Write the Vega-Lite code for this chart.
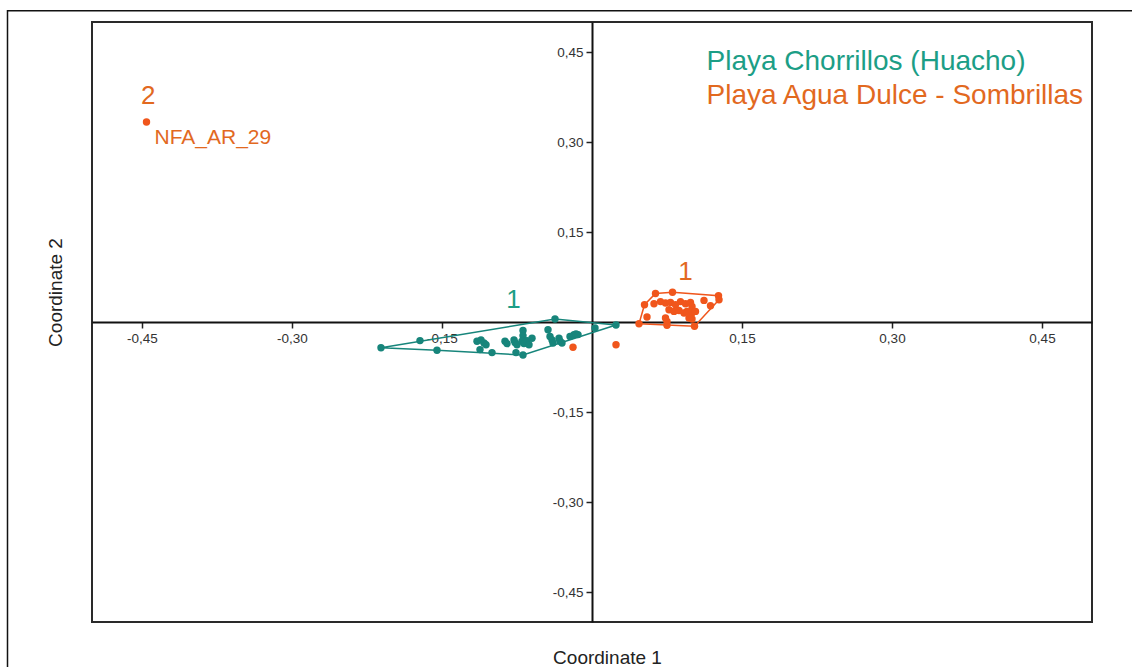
{
  "$schema": "https://vega.github.io/schema/vega-lite/v6.json",
  "width": 1000,
  "height": 600,
  "autosize": {"type": "none"},
  "padding": {"left": 92, "top": 22, "right": 40, "bottom": 45},
  "background": "white",
  "config": {
    "font": "Liberation Sans",
    "view": {"stroke": "#2a2a2a", "strokeWidth": 2}
  },
  "datasets": {
    "points": [
      {"group": "Chorrillos", "x": -0.211, "y": -0.043},
      {"group": "Chorrillos", "x": -0.172, "y": -0.031},
      {"group": "Chorrillos", "x": -0.155, "y": -0.047},
      {"group": "Chorrillos", "x": -0.115, "y": -0.032},
      {"group": "Chorrillos", "x": -0.111, "y": -0.030},
      {"group": "Chorrillos", "x": -0.108, "y": -0.035},
      {"group": "Chorrillos", "x": -0.106, "y": -0.038},
      {"group": "Chorrillos", "x": -0.112, "y": -0.046},
      {"group": "Chorrillos", "x": -0.100, "y": -0.051},
      {"group": "Chorrillos", "x": -0.087, "y": -0.032},
      {"group": "Chorrillos", "x": -0.085, "y": -0.036},
      {"group": "Chorrillos", "x": -0.078, "y": -0.030},
      {"group": "Chorrillos", "x": -0.077, "y": -0.034},
      {"group": "Chorrillos", "x": -0.075, "y": -0.038},
      {"group": "Chorrillos", "x": -0.076, "y": -0.051},
      {"group": "Chorrillos", "x": -0.069, "y": -0.014},
      {"group": "Chorrillos", "x": -0.069, "y": -0.023},
      {"group": "Chorrillos", "x": -0.070, "y": -0.032},
      {"group": "Chorrillos", "x": -0.068, "y": -0.036},
      {"group": "Chorrillos", "x": -0.065, "y": -0.031},
      {"group": "Chorrillos", "x": -0.063, "y": -0.038},
      {"group": "Chorrillos", "x": -0.060, "y": -0.027},
      {"group": "Chorrillos", "x": -0.069, "y": -0.055},
      {"group": "Chorrillos", "x": -0.044, "y": -0.013},
      {"group": "Chorrillos", "x": -0.042, "y": -0.024},
      {"group": "Chorrillos", "x": -0.040, "y": -0.030},
      {"group": "Chorrillos", "x": -0.039, "y": -0.035},
      {"group": "Chorrillos", "x": -0.037, "y": 0.005},
      {"group": "Chorrillos", "x": -0.033, "y": -0.027},
      {"group": "Chorrillos", "x": -0.032, "y": -0.032},
      {"group": "Chorrillos", "x": -0.030, "y": -0.035},
      {"group": "Chorrillos", "x": -0.022, "y": -0.024},
      {"group": "Chorrillos", "x": -0.018, "y": -0.021},
      {"group": "Chorrillos", "x": -0.016, "y": -0.020},
      {"group": "Chorrillos", "x": -0.014, "y": -0.021},
      {"group": "Chorrillos", "x": 0.003, "y": -0.010},
      {"group": "Chorrillos", "x": 0.024, "y": -0.005},
      {"group": "AguaDulce", "x": 0.0635, "y": 0.0475},
      {"group": "AguaDulce", "x": 0.0805, "y": 0.0497},
      {"group": "AguaDulce", "x": 0.1265, "y": 0.0438},
      {"group": "AguaDulce", "x": 0.127, "y": 0.0372},
      {"group": "AguaDulce", "x": 0.0525, "y": 0.0288},
      {"group": "AguaDulce", "x": 0.062, "y": 0.0305},
      {"group": "AguaDulce", "x": 0.0685, "y": 0.034},
      {"group": "AguaDulce", "x": 0.0735, "y": 0.0317},
      {"group": "AguaDulce", "x": 0.0785, "y": 0.0327},
      {"group": "AguaDulce", "x": 0.0835, "y": 0.0288},
      {"group": "AguaDulce", "x": 0.0885, "y": 0.034},
      {"group": "AguaDulce", "x": 0.0935, "y": 0.0305},
      {"group": "AguaDulce", "x": 0.0985, "y": 0.0327},
      {"group": "AguaDulce", "x": 0.100, "y": 0.026},
      {"group": "AguaDulce", "x": 0.112, "y": 0.036},
      {"group": "AguaDulce", "x": 0.1185, "y": 0.027},
      {"group": "AguaDulce", "x": 0.077, "y": 0.0205},
      {"group": "AguaDulce", "x": 0.082, "y": 0.0177},
      {"group": "AguaDulce", "x": 0.087, "y": 0.0193},
      {"group": "AguaDulce", "x": 0.092, "y": 0.015},
      {"group": "AguaDulce", "x": 0.095, "y": 0.0177},
      {"group": "AguaDulce", "x": 0.100, "y": 0.015},
      {"group": "AguaDulce", "x": 0.1035, "y": 0.0177},
      {"group": "AguaDulce", "x": 0.055, "y": 0.0083},
      {"group": "AguaDulce", "x": 0.0735, "y": 0.0067},
      {"group": "AguaDulce", "x": 0.075, "y": 0.001},
      {"group": "AguaDulce", "x": 0.100, "y": 0.005},
      {"group": "AguaDulce", "x": 0.097, "y": 0.0067},
      {"group": "AguaDulce", "x": 0.047, "y": -0.003},
      {"group": "AguaDulce", "x": 0.075, "y": -0.0053},
      {"group": "AguaDulce", "x": 0.1025, "y": -0.007},
      {"group": "AguaDulce", "x": -0.019, "y": -0.042},
      {"group": "AguaDulce", "x": 0.024, "y": -0.038},
      {"group": "AguaDulce", "x": -0.4455, "y": 0.3333}
    ],
    "hulls": [
      {"group": "Chorrillos", "order": 1, "x": -0.211, "y": -0.043},
      {"group": "Chorrillos", "order": 2, "x": -0.037, "y": 0.005},
      {"group": "Chorrillos", "order": 3, "x": 0.024, "y": -0.005},
      {"group": "Chorrillos", "order": 4, "x": -0.069, "y": -0.055},
      {"group": "Chorrillos", "order": 5, "x": -0.155, "y": -0.047},
      {"group": "Chorrillos", "order": 6, "x": -0.211, "y": -0.043},
      {"group": "AguaDulce", "order": 1, "x": 0.047, "y": -0.003},
      {"group": "AguaDulce", "order": 2, "x": 0.0525, "y": 0.0288},
      {"group": "AguaDulce", "order": 3, "x": 0.0635, "y": 0.0475},
      {"group": "AguaDulce", "order": 4, "x": 0.0805, "y": 0.0497},
      {"group": "AguaDulce", "order": 5, "x": 0.1265, "y": 0.0438},
      {"group": "AguaDulce", "order": 6, "x": 0.127, "y": 0.0372},
      {"group": "AguaDulce", "order": 7, "x": 0.1025, "y": -0.007},
      {"group": "AguaDulce", "order": 8, "x": 0.047, "y": -0.003}
    ],
    "legendText": [
      {"group": "Chorrillos", "text": "Playa Chorrillos (Huacho)", "x": 0.1145, "y": 0.434},
      {"group": "AguaDulce", "text": "Playa Agua Dulce - Sombrillas", "x": 0.1145, "y": 0.377}
    ],
    "clusterText": [
      {"group": "Chorrillos", "text": "1", "x": -0.0785, "y": 0.037},
      {"group": "AguaDulce", "text": "1", "x": 0.0935, "y": 0.084},
      {"group": "AguaDulce", "text": "2", "x": -0.4438, "y": 0.376}
    ],
    "samples": [
      {"group": "AguaDulce", "text": "NFA_AR_29", "x": -0.4375, "y": 0.306}
    ]
  },
  "layer": [
    {
      "data": {"values": [{}]},
      "mark": {"type": "rect", "fillOpacity": 0, "stroke": "#111111", "strokeWidth": 1.5},
      "encoding": {
        "x": {"datum": -0.5845, "type": "quantitative", "scale": {"domain": [-0.5, 0.5], "nice": false, "zero": false}},
        "x2": {"datum": 0.7},
        "y": {"datum": 0.5188, "type": "quantitative", "scale": {"domain": [-0.5, 0.5], "nice": false, "zero": false}},
        "y2": {"datum": -0.7}
      }
    },
    {
      "data": {"name": "hulls"},
      "mark": {"type": "line", "strokeWidth": 1.5},
      "encoding": {
        "x": {"field": "x", "type": "quantitative", "scale": {"domain": [-0.5, 0.5], "nice": false, "zero": false}},
        "y": {"field": "y", "type": "quantitative", "scale": {"domain": [-0.5, 0.5], "nice": false, "zero": false}},
        "detail": {"field": "group"},
        "order": {"field": "order", "type": "quantitative"},
        "color": {"field": "group", "type": "nominal", "legend": null,
          "scale": {"domain": ["Chorrillos", "AguaDulce"], "range": ["#17857b", "#f0561c"]}}
      }
    },
    {
      "data": {"name": "points"},
      "mark": {"type": "circle", "size": 55, "opacity": 1},
      "encoding": {
        "x": {"field": "x", "type": "quantitative",
          "scale": {"domain": [-0.5, 0.5], "nice": false, "zero": false},
          "axis": {
            "values": [-0.45, -0.3, -0.15, 0.15, 0.3, 0.45],
            "labelExpr": "(datum.value < 0 ? '-' : '') + replace(format(abs(datum.value), '.2f'), '.', ',')",
            "offset": -300,
            "grid": false,
            "domainColor": "#111111", "domainWidth": 2,
            "tickColor": "#222222", "tickSize": 6, "tickWidth": 1.5,
            "labelFontSize": 13.5, "labelColor": "#333333", "labelPadding": 3,
            "title": "Coordinate 1", "titleFontSize": 19, "titleFontWeight": "normal", "titleColor": "#222222",
            "titleX": 515, "titleY": 335, "titleAlign": "center", "titleBaseline": "middle"
          }},
        "y": {"field": "y", "type": "quantitative",
          "scale": {"domain": [-0.5, 0.5], "nice": false, "zero": false},
          "axis": {
            "values": [-0.45, -0.3, -0.15, 0.15, 0.3, 0.45],
            "labelExpr": "(datum.value < 0 ? '-' : '') + replace(format(abs(datum.value), '.2f'), '.', ',')",
            "offset": -500,
            "grid": false,
            "domainColor": "#111111", "domainWidth": 2,
            "tickColor": "#222222", "tickSize": 6, "tickWidth": 1.5,
            "labelFontSize": 13.5, "labelColor": "#333333", "labelPadding": 3,
            "title": "Coordinate 2", "titleFontSize": 19, "titleFontWeight": "normal", "titleColor": "#222222",
            "titleX": -537, "titleY": 270, "titleAngle": -90, "titleAlign": "center", "titleBaseline": "middle"
          }},
        "color": {"field": "group", "type": "nominal", "legend": null,
          "scale": {"domain": ["Chorrillos", "AguaDulce"], "range": ["#17857b", "#f0561c"]}}
      }
    },
    {
      "data": {"name": "legendText"},
      "mark": {"type": "text", "align": "left", "baseline": "middle", "fontSize": 28},
      "encoding": {
        "x": {"field": "x", "type": "quantitative", "scale": {"domain": [-0.5, 0.5], "nice": false, "zero": false}},
        "y": {"field": "y", "type": "quantitative", "scale": {"domain": [-0.5, 0.5], "nice": false, "zero": false}},
        "text": {"field": "text"},
        "color": {"field": "group", "type": "nominal", "legend": null,
          "scale": {"domain": ["Chorrillos", "AguaDulce"], "range": ["#1c9e86", "#e2691f"]}}
      }
    },
    {
      "data": {"name": "clusterText"},
      "mark": {"type": "text", "align": "center", "baseline": "middle", "fontSize": 26},
      "encoding": {
        "x": {"field": "x", "type": "quantitative", "scale": {"domain": [-0.5, 0.5], "nice": false, "zero": false}},
        "y": {"field": "y", "type": "quantitative", "scale": {"domain": [-0.5, 0.5], "nice": false, "zero": false}},
        "text": {"field": "text"},
        "color": {"field": "group", "type": "nominal", "legend": null,
          "scale": {"domain": ["Chorrillos", "AguaDulce"], "range": ["#1c9e86", "#e2691f"]}}
      }
    },
    {
      "data": {"name": "samples"},
      "mark": {"type": "text", "align": "left", "baseline": "middle", "fontSize": 21, "color": "#e2691f"},
      "encoding": {
        "x": {"field": "x", "type": "quantitative", "scale": {"domain": [-0.5, 0.5], "nice": false, "zero": false}},
        "y": {"field": "y", "type": "quantitative", "scale": {"domain": [-0.5, 0.5], "nice": false, "zero": false}},
        "text": {"field": "text"}
      }
    }
  ],
  "resolve": {"scale": {"color": "independent"}}
}
